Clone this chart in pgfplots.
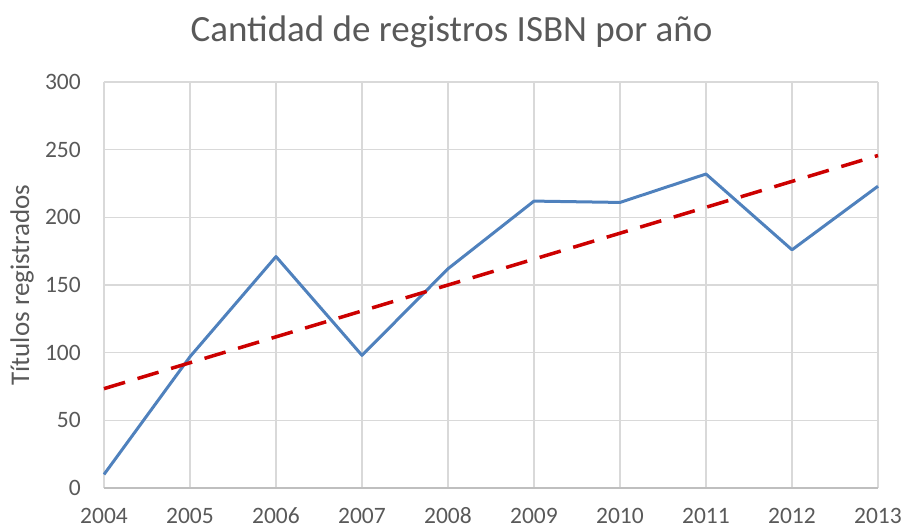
\documentclass[border=0pt]{standalone}
\usepackage{fontspec}
\setmainfont{Carlito}
\usepackage{pgfplots}
\pgfplotsset{compat=1.18}
\definecolor{txtgray}{RGB}{89,89,89}
\definecolor{gridgray}{RGB}{217,217,217}
\definecolor{axgray}{RGB}{191,191,191}
\definecolor{lineblue}{RGB}{79,129,189}
\definecolor{trendred}{RGB}{204,0,0}

\begin{document}
\begin{tikzpicture}
\path[use as bounding box] (-104pt,-41pt) rectangle (799pt,488pt);
\begin{axis}[
  scale only axis,
  width=774pt, height=406pt,
  xmin=2004, xmax=2013,
  ymin=0, ymax=300,
  xtick={2004,...,2013},
  ytick={0,50,...,300},
  grid=major,
  grid style={gridgray, line width=1.3pt},
  axis x line=bottom, axis y line=left,
  x axis line style={axgray, line width=1.3pt, -},
  y axis line style={draw=none},
  major tick length=0pt,
  /pgf/number format/1000 sep={},
  /pgf/number format/assume math mode=true,
  tick label style={font=\fontsize{23.5}{26}\selectfont, text=txtgray},
  xticklabel style={anchor=base, inner sep=0pt, yshift=-36pt},
  yticklabel style={anchor=east, inner sep=0pt, xshift=-23pt},
  ylabel={Títulos registrados},
  every axis y label/.style={at={(axis description cs:0,0.5)}, xshift=-82pt,
    rotate=90, anchor=center, font=\fontsize{27}{30}\selectfont, text=txtgray},
  title={Cantidad de registros ISBN por año},
  every axis title/.style={at={(axis description cs:0,1)}, xshift=347.5pt, yshift=40pt,
    anchor=base, font=\fontsize{37}{42}\selectfont, text=txtgray},
  clip=false,
]
\addplot[lineblue, line width=3pt, line join=round] coordinates {
  (2004,10) (2005,97) (2006,171) (2007,98) (2008,162)
  (2009,212) (2010,211) (2011,232) (2012,176) (2013,223)
};
\addplot[trendred, line width=3.5pt, dash pattern=on 22pt off 13pt] coordinates {
  (2004,73.4) (2013,245.7)
};
\end{axis}
\end{tikzpicture}
\end{document}
